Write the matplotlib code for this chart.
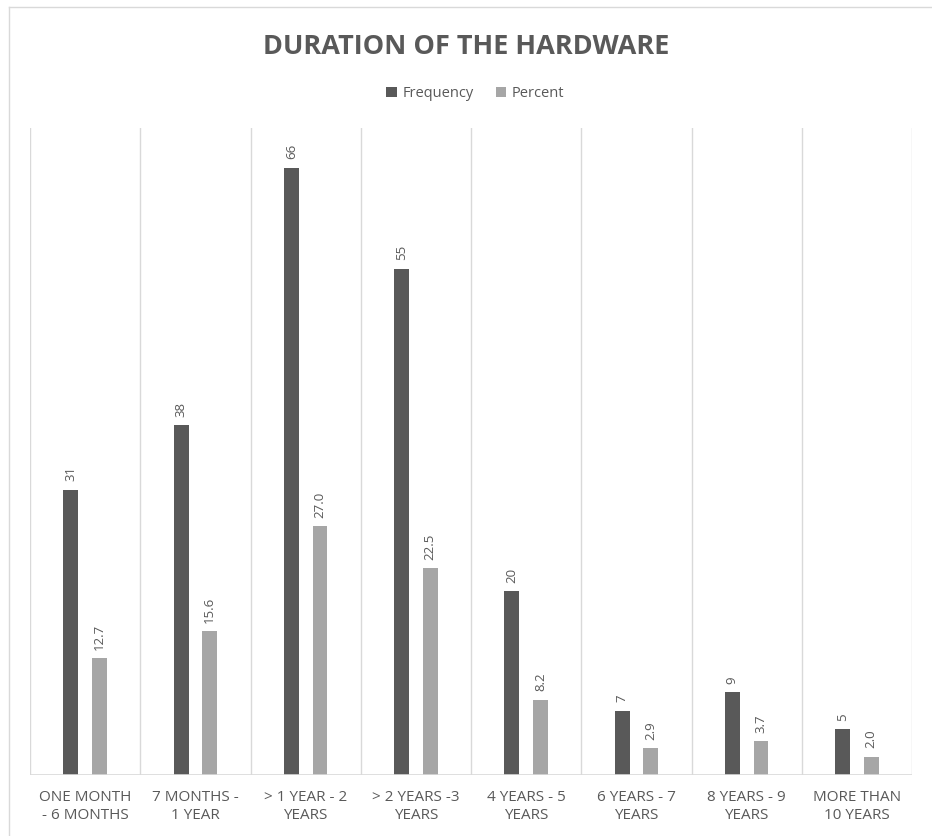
import matplotlib.pyplot as plt
import numpy as np

categories = ['ONE MONTH\n- 6 MONTHS', '7 MONTHS -\n1 YEAR', '> 1 YEAR - 2\nYEARS',
              '> 2 YEARS -3\nYEARS', '4 YEARS - 5\nYEARS', '6 YEARS - 7\nYEARS',
              '8 YEARS - 9\nYEARS', 'MORE THAN\n10 YEARS']
frequency = [31, 38, 66, 55, 20, 7, 9, 5]
percent = [12.7, 15.6, 27.0, 22.5, 8.2, 2.9, 3.7, 2.0]

TEXT = '#595959'
plt.rcParams['font.family'] = ['Open Sans', 'DejaVu Sans']


def main():
	fig = plt.figure(figsize=(9.32, 8.36), dpi=100)
	ax = fig.add_axes([0.0322, 0.0730, 0.9464, 0.7739])

	x = np.arange(len(categories))
	w = 0.135
	b1 = ax.bar(x - 0.13, frequency, w, color='#595959', label='Frequency', zorder=3)
	b2 = ax.bar(x + 0.13, percent, w, color='#a6a6a6', label='Percent', zorder=3)

	for bars, vals, fmt in [(b1, frequency, '{:d}'), (b2, percent, '{:.1f}')]:
		for r, v in zip(bars, vals):
			ax.annotate(fmt.format(v), (r.get_x() + r.get_width() / 2, v),
				xytext=(0, 6), textcoords='offset points', rotation=90,
				ha='center', va='bottom', fontsize=9.5, color=TEXT)

	ax.set_xlim(-0.5, len(categories) - 0.5)
	ax.set_ylim(0, 70.3)
	#vertical gridlines between categories
	for b in np.arange(-0.5, len(categories), 1):
		ax.axvline(b, color='#d9d9d9', lw=1, zorder=1)
	for s in ax.spines.values():
		s.set_visible(False)
	ax.axhline(0, color='#d9d9d9', lw=1.2, zorder=4)
	ax.set_yticks([])
	ax.set_xticks(x)
	ax.set_xticklabels(categories, fontsize=11, color=TEXT, linespacing=1.25)
	ax.tick_params(axis='x', length=0, pad=11)

	fig.text(0.5, 0.944, 'DURATION OF THE HARDWARE', ha='center', va='center',
		fontsize=19.5, fontweight='bold', color=TEXT)
	fig.legend(handles=[b1, b2], loc='center', bbox_to_anchor=(0.51, 0.888), ncol=2,
		frameon=False, fontsize=10.5, labelcolor=TEXT, handlelength=0.7,
		handleheight=0.7, handletextpad=0.4, columnspacing=1.5)

	#chart frame (top and left edges)
	fig.add_artist(plt.Line2D([9 / 932, 1], [1 - 7 / 836, 1 - 7 / 836], color='#d9d9d9', lw=1))
	fig.add_artist(plt.Line2D([9 / 932, 9 / 932], [0, 1 - 7 / 836], color='#d9d9d9', lw=1))

	fig.savefig('out.png', dpi=100)
	plt.close(fig)


if __name__ == '__main__':
	main()
